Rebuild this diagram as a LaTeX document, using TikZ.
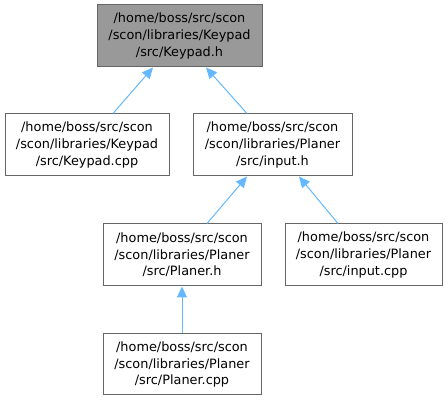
\documentclass[tikz,border=0pt]{standalone}
\usepackage{fontspec}
\setmainfont{DejaVu Sans}
\usetikzlibrary{calc,arrows.meta}
\definecolor{edgeblue}{HTML}{63B8FF}
\definecolor{boxline}{HTML}{666666}
\definecolor{topfill}{HTML}{999999}
\tikzset{
  filebox/.style={draw=boxline, line width=1pt, rectangle, inner sep=0pt,
    minimum height=62pt, align=center,
    font=\fontsize{12.85pt}{16.7pt}\selectfont},
  dep/.style={draw=edgeblue, line width=1pt, -{Triangle[length=11pt,width=10pt]}}
}
\begin{document}
\begin{tikzpicture}[x=1pt,y=-1pt]
\useasboundingbox (0,0) rectangle (448,401);
\node[filebox, fill=topfill, minimum width=165pt] (n1) at (179.5,36) {/home/boss/src/scon\\/scon/libraries/Keypad\\/src/Keypad.h};
\node[filebox, minimum width=164pt] (n2) at (87,145) {/home/boss/src/scon\\/scon/libraries/Keypad\\/src/Keypad.cpp};
\node[filebox, minimum width=159pt] (n3) at (272.5,145) {/home/boss/src/scon\\/scon/libraries/Planer\\/src/input.h};
\node[filebox, minimum width=158pt] (n4) at (182,255) {/home/boss/src/scon\\/scon/libraries/Planer\\/src/Planer.h};
\node[filebox, minimum width=157pt] (n5) at (363.5,255) {/home/boss/src/scon\\/scon/libraries/Planer\\/src/input.cpp};
\node[filebox, minimum width=158pt, minimum height=61pt] (n6) at (182,364.5) {/home/boss/src/scon\\/scon/libraries/Planer\\/src/Planer.cpp};
\draw[dep] ($(n2.north)+(26,0)$) -- ($(n1.south)+(-26.5,0)$);
\draw[dep] ($(n3.north)+(-25.5,0)$) -- ($(n1.south)+(26.5,0)$);
\draw[dep] ($(n4.north)+(25,0)$) -- ($(n3.south)+(-25.5,0)$);
\draw[dep] ($(n5.north)+(-25.5,0)$) -- ($(n3.south)+(26.5,0)$);
\draw[dep] (n6.north) -- (n4.south);
\end{tikzpicture}
\end{document}
